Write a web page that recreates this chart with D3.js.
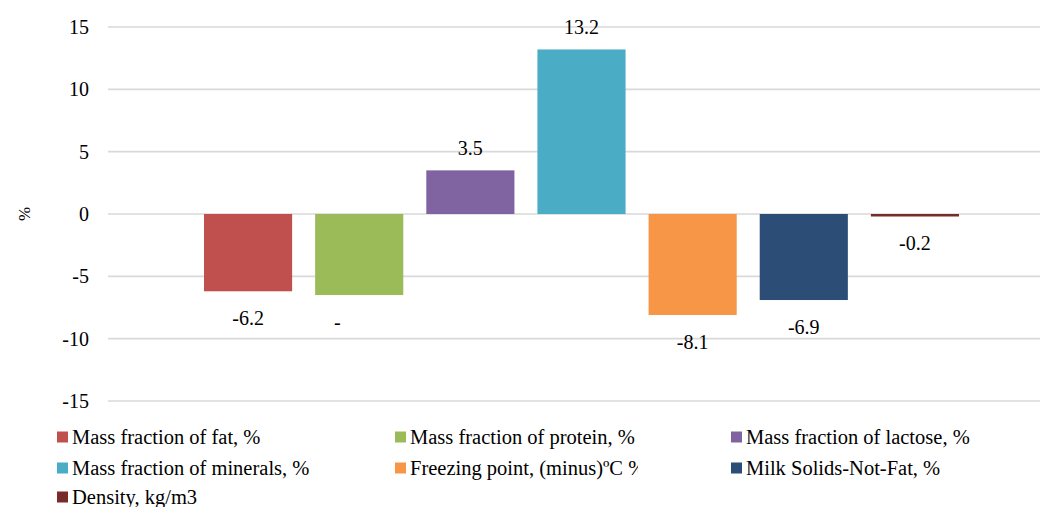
<!DOCTYPE html>
<html><head><meta charset="utf-8">
<script src="https://cdn.jsdelivr.net/npm/d3@7/dist/d3.min.js"></script>
</head><body style="margin:0">
<svg id="c" width="1040" height="507"></svg>
<script>
const series = ["Mass fraction of fat, %","Mass fraction of protein, %","Mass fraction of lactose, %","Mass fraction of minerals, %","Freezing point, (minus)ºC %","Milk Solids-Not-Fat, %","Density, kg/m3"];
const values = [-6.2,-6.5,3.5,13.2,-8.1,-6.9,-0.2];
const labels = ["-6.2","-","3.5","13.2","-8.1","-6.9","-0.2"];
const colors = ["#C0504D","#9BBB59","#8064A2","#4BACC6","#F79646","#2C4D75","#772C2A"];
const yTicks = [-15,-10,-5,0,5,10,15];

const FONT = "Liberation Serif";
const svg = d3.select("#c");
const y = d3.scaleLinear().domain([-15,15]).range([401,27]);
const x = d3.scaleBand().domain(series).range([204,959]).paddingInner(0.207).paddingOuter(0);
const fs = 20, lfs = 20.5;

svg.append("g").selectAll("line").data(yTicks).join("line")
  .attr("x1",108).attr("x2",1040).attr("y1",d=>y(d)).attr("y2",d=>y(d))
  .attr("stroke","#d9d9d9").attr("stroke-width",1.6);

const yAxis = d3.axisLeft(y).tickValues(yTicks).tickSize(0).tickPadding(0).tickFormat(d=>String(d));
const ga = svg.append("g").attr("transform","translate(89,0)").call(yAxis);
ga.select(".domain").remove();
ga.attr("font-family",FONT);
ga.selectAll("text").attr("font-family",FONT).attr("font-size",fs).attr("fill","#000").attr("dy","0.33em");

svg.append("text").attr("transform","translate(24,214) rotate(-90)").attr("text-anchor","middle")
  .attr("font-family",FONT).attr("font-size",17).attr("dy","0.33em").text("%");

svg.append("g").selectAll("rect").data(values).join("rect")
  .attr("x",(d,i)=>x(series[i])).attr("width",x.bandwidth())
  .attr("y",d=>y(Math.max(0,d))).attr("height",d=>Math.abs(y(d)-y(0)))
  .attr("fill",(d,i)=>colors[i]);

svg.append("g").selectAll("text").data(values).join("text")
  .attr("x",(d,i)=>x(series[i])+x.bandwidth()/2 + (labels[i]==="-" ? -22 : 0))
  .attr("y",d=> d>=0 ? y(d)-15 : y(d)+34)
  .attr("text-anchor","middle").attr("font-family",FONT).attr("font-size",fs).attr("fill","#000")
  .text((d,i)=>labels[i]);

const colX = [57,395,731], rowY = [437,468,497], colW = [335,243,305];
svg.append("defs").selectAll("clipPath").data(series).join("clipPath")
  .attr("id",(d,i)=>"cl"+i)
  .append("rect").attr("x",(d,i)=>colX[i%3]).attr("y",(d,i)=>rowY[Math.floor(i/3)]-15)
  .attr("width",(d,i)=>colW[i%3]).attr("height",30);
const lg = svg.append("g").selectAll("g").data(series).join("g")
  .attr("clip-path",(d,i)=>`url(#cl${i})`);
lg.append("rect").attr("x",(d,i)=>colX[i%3]).attr("y",(d,i)=>rowY[Math.floor(i/3)]-5.5)
  .attr("width",11).attr("height",11).attr("fill",(d,i)=>colors[i]);
lg.append("text").attr("x",(d,i)=>colX[i%3]+15).attr("y",(d,i)=>rowY[Math.floor(i/3)])
  .attr("dy","0.33em").attr("font-family",FONT).attr("font-size",lfs).attr("fill","#000").text(d=>d);
</script>
</body></html>
